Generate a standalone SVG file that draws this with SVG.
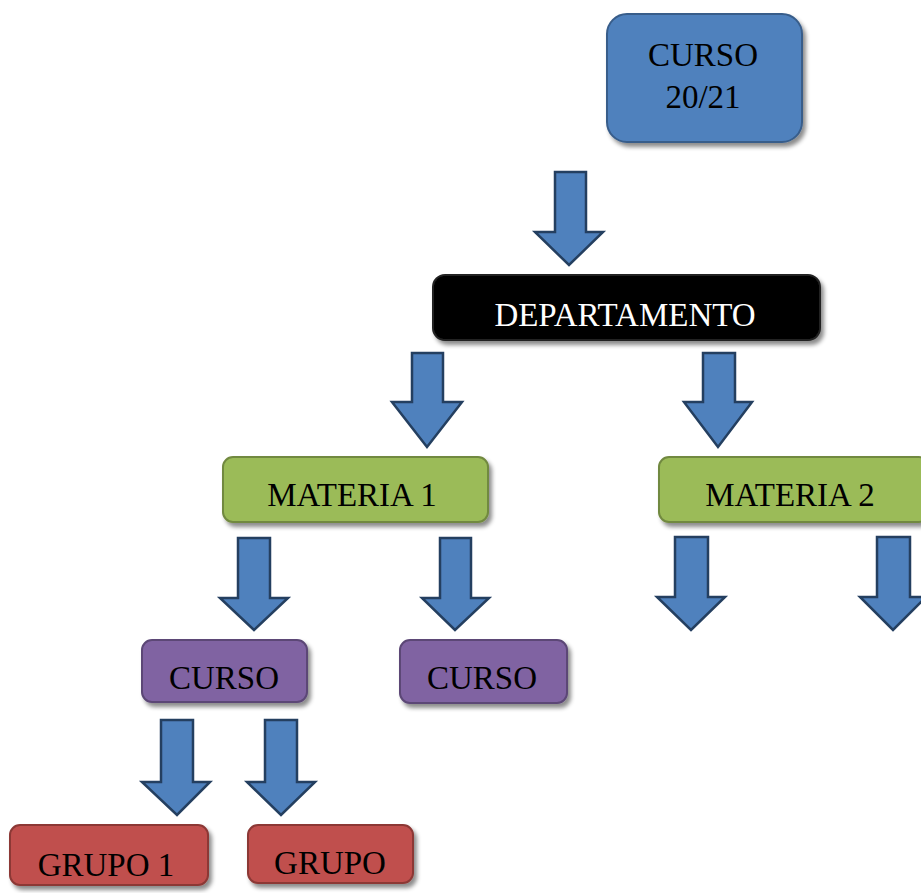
<svg xmlns="http://www.w3.org/2000/svg" width="921" height="893" viewBox="0 0 921 893">
<defs>
<filter id="sh" x="-10%" y="-10%" width="130%" height="140%">
<feDropShadow dx="3" dy="4" stdDeviation="2" flood-color="#000" flood-opacity="0.45"/>
</filter>
</defs>
<style>
.t{font-family:"Liberation Serif","Times New Roman",serif;font-size:33px;text-anchor:middle;fill:#000}
.w{fill:#fff}
.arr{fill:#4F81BD;stroke:#243F60;stroke-width:2.5;stroke-linejoin:miter}
.blue{fill:#4F81BD;stroke:#385D8A;stroke-width:2}
.blk{fill:#000;stroke:#222;stroke-width:2}
.grn{fill:#9BBB59;stroke:#71893F;stroke-width:2}
.pur{fill:#8064A2;stroke:#5C4776;stroke-width:2}
.red{fill:#C0504D;stroke:#8C3836;stroke-width:2}
</style>
<rect width="921" height="893" fill="#fff"/>
<g id="connectors">
<path class="arr" d="M555,172 H586 V232 H603 L569,265 L535,232 H555 Z"/>
<path class="arr" d="M412,353 H443 V402 H462 L427,447 L392,402 H412 Z"/>
<path class="arr" d="M703,353 H735 V402 H752 L718,447 L684,402 H703 Z"/>
<path class="arr" d="M238,538 H270 V598 H288 L254,630 L220,598 H238 Z"/>
<path class="arr" d="M440,538 H471 V598 H489 L455,630 L422,598 H440 Z"/>
<path class="arr" d="M675,537 H708 V597 H725 L691,630 L657,597 H675 Z"/>
<path class="arr" d="M877,537 H910 V597 H926 L893,630 L860,597 H877 Z"/>
<path class="arr" d="M161,720 H193 V782 H210 L177,815 L142,782 H161 Z"/>
<path class="arr" d="M265,720 H297 V782 H315 L281,815 L247,782 H265 Z"/>
</g>
<g id="curso2021">
<rect class="blue" x="607" y="14" width="195" height="128" rx="20" filter="url(#sh)"/>
<text class="t" x="703" y="66">CURSO</text>
<text class="t" x="703" y="108">20/21</text>
</g>
<g id="departamento">
<rect class="blk" x="433" y="275" width="387" height="65" rx="12" filter="url(#sh)"/>
<text class="t w" x="625" y="326">DEPARTAMENTO</text>
</g>
<g id="materia1">
<rect class="grn" x="223" y="457" width="265" height="65" rx="10" filter="url(#sh)"/>
<text class="t" x="352" y="506">MATERIA 1</text>
</g>
<g id="materia2">
<rect class="grn" x="659" y="457" width="270" height="65" rx="10" filter="url(#sh)"/>
<text class="t" x="790" y="506">MATERIA 2</text>
</g>
<g id="curso1">
<rect class="pur" x="142" y="640" width="165" height="62" rx="10" filter="url(#sh)"/>
<text class="t" x="224" y="689">CURSO</text>
</g>
<g id="curso2">
<rect class="pur" x="400" y="640" width="167" height="63" rx="10" filter="url(#sh)"/>
<text class="t" x="482" y="689">CURSO</text>
</g>
<g id="grupo1">
<rect class="red" x="10" y="825" width="198" height="60" rx="10" filter="url(#sh)"/>
<text class="t" x="106" y="876">GRUPO 1</text>
</g>
<g id="grupo2">
<rect class="red" x="248" y="825" width="165" height="58" rx="10" filter="url(#sh)"/>
<text class="t" x="330" y="874">GRUPO</text>
</g>
</svg>
